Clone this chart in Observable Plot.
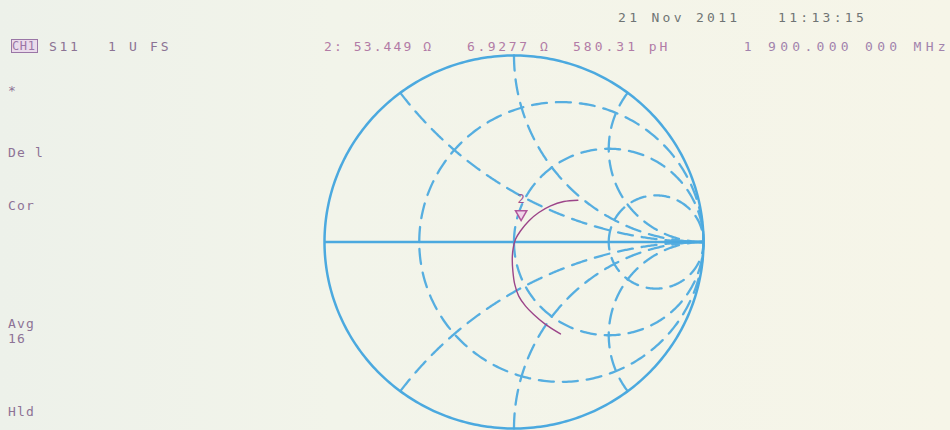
<!DOCTYPE html>
<html>
<head>
<meta charset="utf-8">
<script src="https://cdn.jsdelivr.net/npm/d3@7"></script>
<script src="https://cdn.jsdelivr.net/npm/@observablehq/plot@0.6"></script>
<style>
  html, body { margin: 0; padding: 0; background: #f3f4ea; }
  #wrap { position: relative; width: 950px; height: 430px; overflow: hidden;
          background: linear-gradient(90deg, #edf1ea 0%, #f2f4ea 35%, #f6f5e8 100%); }
  #wrap svg { position: absolute; left: 0; top: 0; }
  .t { position: absolute; font-family: "DejaVu Sans Mono", monospace; font-size: 13px;
       letter-spacing: 2.7px; white-space: pre; line-height: 13px; }
  .box { position: absolute; border: 1.5px solid #9a76a6; background: #eadbeb; }
</style>
</head>
<body>
<div id="wrap"></div>
<script>
// ---- data ----
// Graticule values (normalized impedance)
const resistanceCircles = [1/3, 1, 3];
const reactanceArcs = [0.5, 1, 2, -0.5, -1, -2];
// Measured S11 trace (reflection coefficient, real / imaginary)
const traceRe = [0.337, 0.263, 0.193, 0.131, 0.078, 0.034, 0.008, -0.004, -0.009, -0.006, 0.004, 0.025, 0.061, 0.104, 0.166, 0.245];
const traceIm = [0.224, 0.217, 0.194, 0.158, 0.113, 0.059, 0.015, -0.031, -0.084, -0.156, -0.227, -0.290, -0.344, -0.389, -0.442, -0.493];
// Marker 2 readout
const markerLabel = ["2"];
const markerR = [53.449];   // ohm
const markerX = [6.9277];   // ohm
const z0 = 50;
// Header / softkey texts
const headerDate = ["21 Nov 2011", "11:13:15"];
const headerRow = ["S11", "1 U FS", "2: 53.449 Ω", "6.9277 Ω", "580.31 pH", "1 900.000 000 MHz"];
const sideLabels = ["*", "De l", "Cor", "Avg", "16", "Hld"];

// ---- geometry helpers (Smith transform) ----
function gamma(r, x) {
  const den = (r + 1) * (r + 1) + x * x;
  return [(r * r + x * x - 1) / den, (2 * x) / den];
}
const N = 360;
const rGrid = [];
for (const r of resistanceCircles) {
  const c = r / (1 + r), R = 1 / (1 + r);
  for (let i = 0; i <= N; i++) {
    const th = Math.PI - (2 * Math.PI * i) / N;
    rGrid.push({k: "r" + r, gx: c + R * Math.cos(th), gy: R * Math.sin(th)});
  }
}
const xGrid = [];
for (const x of reactanceArcs) {
  for (let i = 0; i <= N; i++) {
    const t = (Math.PI / 2) * 0.997 * (i / N);
    const [gx, gy] = gamma(Math.tan(t), x);
    xGrid.push({k: "x" + x, gx, gy});
  }
}
const outer = [];
for (let i = 0; i <= N; i++) {
  const th = (2 * Math.PI * i) / N;
  outer.push({gx: Math.cos(th), gy: Math.sin(th)});
}
const trace = traceRe.map((v, i) => ({gx: v, gy: traceIm[i]}));
const markers = markerLabel.map((l, i) => {
  const [gx, gy] = gamma(markerR[i] / z0, markerX[i] / z0);
  return {label: l, gx, gy};
});

const blue = "#4ba9df";
const dashBlue = "#56aee0";
const magenta = "#9c4589";

const chart = Plot.plot({
  width: 950,
  height: 430,
  marginLeft: 324,
  marginRight: 247,
  marginTop: 55,
  marginBottom: 2,
  x: {domain: [-1, 1], axis: null},
  y: {domain: [-1, 1], axis: null},
  style: {background: "transparent", overflow: "visible"},
  marks: [
    Plot.line(rGrid, {x: "gx", y: "gy", z: "k", stroke: dashBlue, strokeWidth: 2.3, strokeDasharray: "15,9"}),
    Plot.line(xGrid, {x: "gx", y: "gy", z: "k", stroke: dashBlue, strokeWidth: 2.3, strokeDasharray: "15,9"}),
    Plot.line(outer, {x: "gx", y: "gy", stroke: blue, strokeWidth: 2.5}),
    Plot.ruleY([0], {stroke: blue, strokeWidth: 2.3}),
    Plot.line(trace, {x: "gx", y: "gy", curve: "catmull-rom", stroke: magenta, strokeWidth: 1.4}),
    Plot.dot(markers, {x: "gx", y: "gy", symbol: "triangle", rotate: 180, r: 4.2, dy: -16,
                       stroke: "#b0569b", strokeWidth: 1.5, fill: "#f0d6ea"}),
    Plot.text(markers, {x: "gx", y: "gy", text: "label", dy: -31, fill: "#a0508f",
                        fontFamily: "DejaVu Sans Mono", fontSize: 12})
  ]
});
const wrap = document.getElementById("wrap");
wrap.appendChild(chart);

// ---- text overlay ----
function addText(str, left, baseline, color, extra) {
  const d = document.createElement("div");
  d.className = "t";
  d.textContent = str;
  d.style.left = left + "px";
  d.style.top = (baseline - 11) + "px";
  d.style.color = color;
  if (extra) Object.assign(d.style, extra);
  wrap.appendChild(d);
  return d;
}
addText(headerDate[0], 618, 22, "#6f7474", {letterSpacing: "3.3px"});
addText(headerDate[1], 778, 22, "#6f7474", {letterSpacing: "3.3px"});

const box = document.createElement("div");
box.className = "box";
Object.assign(box.style, {left: "11px", top: "39px", width: "25px", height: "12px"});
wrap.appendChild(box);
addText("CH1", 12, 51, "#9a76a6", {letterSpacing: "0.6px", fontSize: "12px"});
addText(headerRow[0], 49, 51, "#8c7394");
addText(headerRow[1], 108, 51, "#8c7394");
addText(headerRow[2], 324, 51, "#b27ca6", {letterSpacing: "2.1px"});
addText(headerRow[3], 467, 51, "#b27ca6", {letterSpacing: "2.6px"});
addText(headerRow[4], 573, 51, "#b27ca6", {letterSpacing: "3.0px"});
const mhz = addText(headerRow[5], 0, 51, "#a283ad", {letterSpacing: "4.3px"});
mhz.style.left = "auto"; mhz.style.right = "0px";

const sideBase = [95, 157, 210, 328, 343, 416];
sideLabels.forEach((s, i) => addText(s, 8, sideBase[i], "#8d7396", {letterSpacing: "1.2px"}));
</script>
</body>
</html>
